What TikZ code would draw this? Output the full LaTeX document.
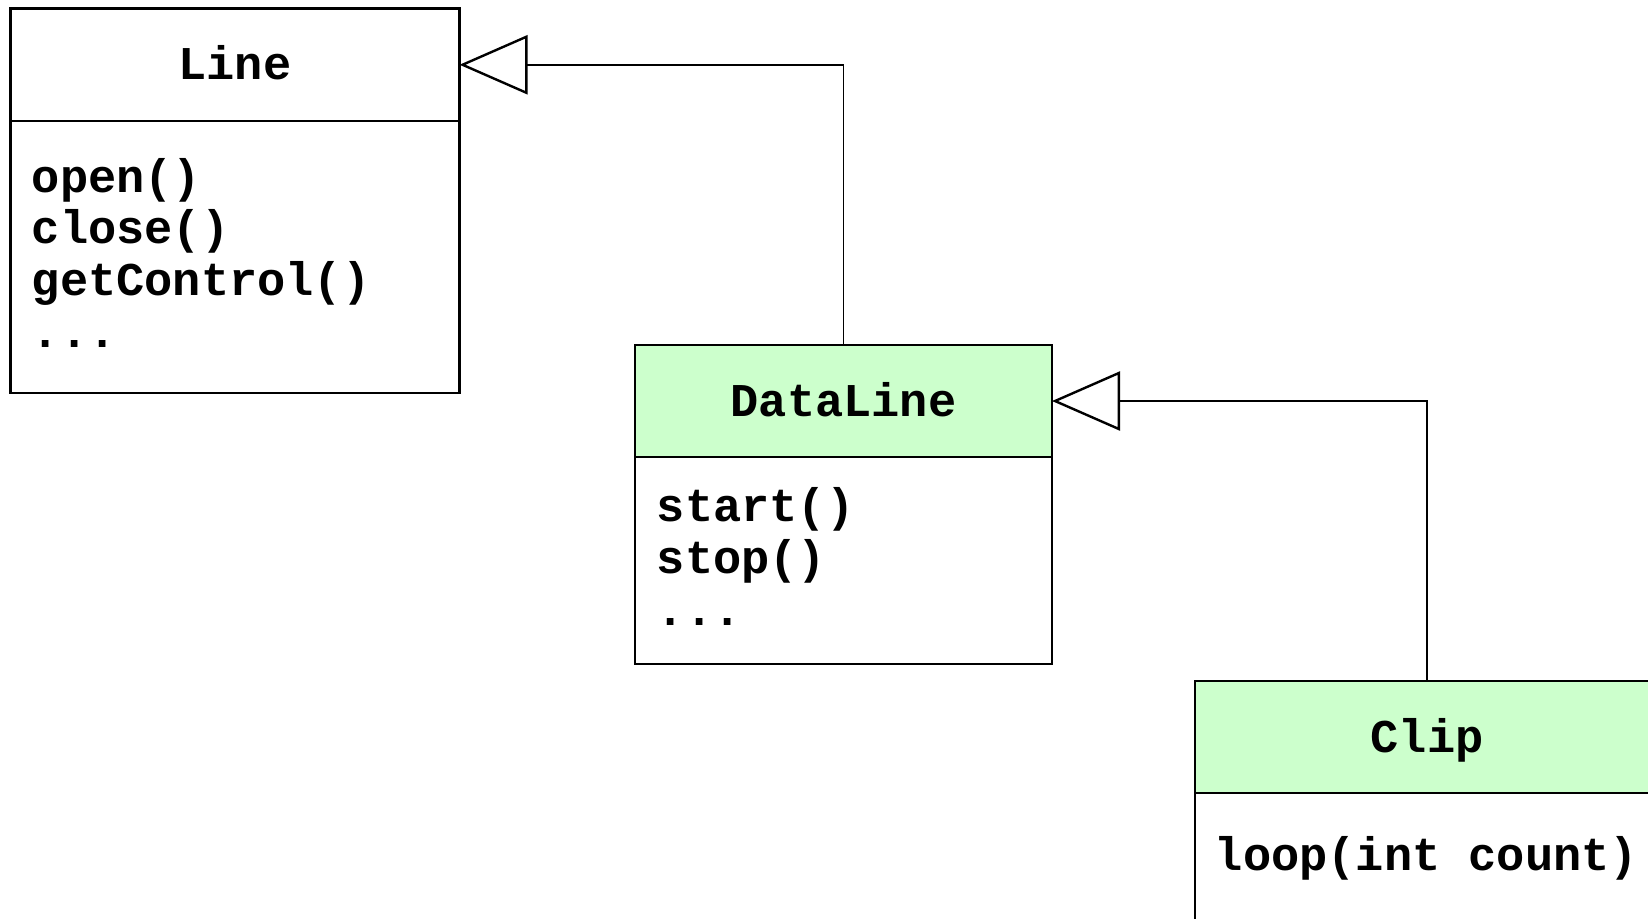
\documentclass[tikz,border=0pt]{standalone}
\usepackage{fontspec}
\setmonofont{Liberation Mono}
\usetikzlibrary{arrows.meta}
\definecolor{clsgreen}{HTML}{CCFFCC}
\begin{document}
\begin{tikzpicture}[x=0.5pt,y=-0.5pt,
  box/.style={draw=black, line width=1.3pt, inner sep=0pt, outer sep=0pt},
  tfont/.style={font=\ttfamily\bfseries\fontsize{23.5}{28}\selectfont},
  titlebox/.style={box, tfont, text height=17pt, text depth=2pt, minimum height=56pt},
  meth/.style={tfont, inner sep=0pt, anchor=base west},
  inh/.style={line width=0.75pt, -{Triangle[open, length=34pt, width=29.5pt, line width=1.2pt]}}
]
\useasboundingbox (0,0) rectangle (1648,918);
\clip (0,0) rectangle (1648,918);

% Line
\node[box, minimum width=224.5pt, minimum height=136pt] (lnb) at (235,257) {};
\node[titlebox, minimum width=224.5pt, minimum height=56.25pt] (lnt) at (235,64.75) {Line};
\node[meth] (m1) at (31.5,192) {open()};
\node[meth] (m2) at (31.5,243.5) {close()};
\node[meth] (m3) at (31.5,295) {getControl()};
\node[meth] (m4) at (31.5,347) {...};

% DataLine
\node[box, minimum width=208.5pt, minimum height=103.5pt] (dlb) at (843.5,560.5) {};
\node[titlebox, fill=clsgreen, minimum width=208.5pt] (dlt) at (843.5,401) {DataLine};
\node[meth] (d1) at (656.5,521.7) {start()};
\node[meth] (d2) at (656.5,573) {stop()};
\node[meth] (d3) at (656.5,625) {...};

% Clip
\node[box, minimum width=232pt, minimum height=103.5pt] (clb) at (1427,896.5) {};
\node[titlebox, fill=clsgreen, minimum width=232pt] (clt) at (1427,737) {Clip};
\node[meth] (c1) at (1214.5,870) {loop(int count)};

% inheritance
\draw[inh] (dlt.north) |- (lnt.east);
\draw[inh] (clt.north) |- (dlt.east);
\end{tikzpicture}
\end{document}
